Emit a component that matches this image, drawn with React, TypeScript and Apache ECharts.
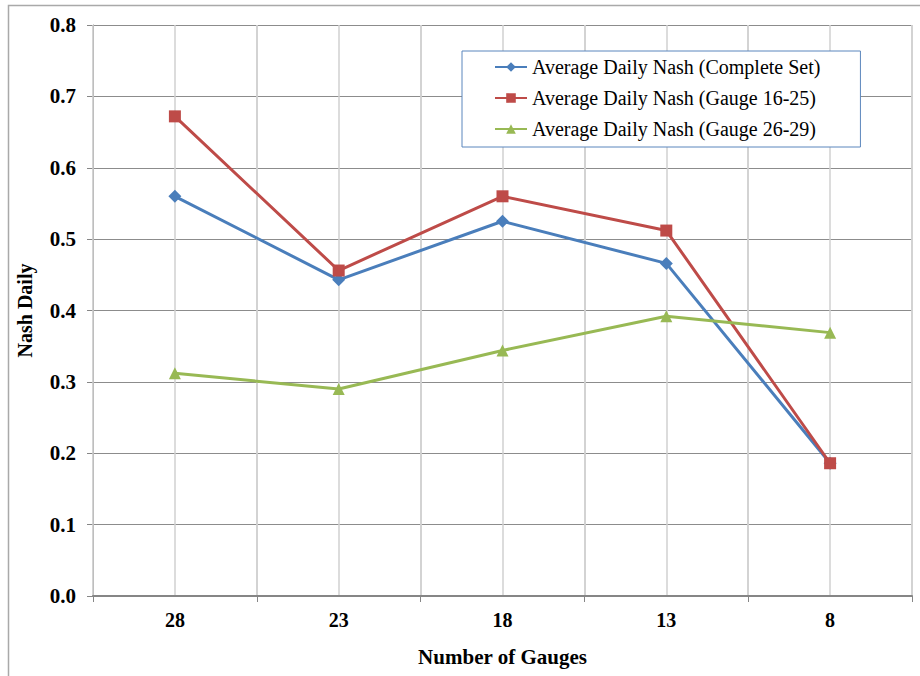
import React, { useEffect, useRef } from "react";
import * as echarts from "echarts";

const gauges = ["28", "23", "18", "13", "8"];
const completeSet = [0.56, 0.443, 0.525, 0.466, 0.186];
const gauge16to25 = [0.672, 0.456, 0.56, 0.512, 0.186];
const gauge26to29 = [0.312, 0.29, 0.344, 0.392, 0.369];

const SERIF = "'Liberation Serif', 'Times New Roman', serif";
const BLUE = "#4a7ebb";
const RED = "#be4b48";
const GREEN = "#98b954";

export default function App() {
  const ref = useRef<HTMLDivElement>(null);

  useEffect(() => {
    if (!ref.current) return;
    const chart = echarts.init(ref.current, undefined, { renderer: "svg" });

    const mkSeries = (name: string, data: number[], color: string, symbol: string, size: number) => ({
      name,
      type: "line",
      data,
      xAxisIndex: 0,
      yAxisIndex: 0,
      symbol,
      symbolSize: size,
      showAllSymbol: true,
      lineStyle: { color, width: 3 },
      itemStyle: { color },
      z: 5,
    });

    chart.setOption({
      animation: false,
      backgroundColor: "#ffffff",
      textStyle: { fontFamily: SERIF },
      grid: { left: 93, right: 8, top: 25, bottom: 80, containLabel: false },
      graphic: [
        {
          type: "rect",
          shape: { x: 8.5, y: 5.5, width: 940, height: 700 },
          style: { fill: "none", stroke: "#a9a9a9", lineWidth: 1.5 },
          silent: true,
          z: 0,
        },
      ],
      legend: {
        orient: "vertical",
        left: 462,
        top: 51,
        padding: [6, 40, 8, 32],
        itemGap: 11,
        itemWidth: 32,
        itemHeight: 12,
        borderColor: "#5b86bd",
        borderWidth: 1,
        backgroundColor: "#ffffff",
        textStyle: { fontFamily: SERIF, fontSize: 20, color: "#000" },
        data: [
          "Average Daily Nash (Complete Set)",
          "Average Daily Nash (Gauge 16-25)",
          "Average Daily Nash (Gauge 26-29)",
        ],
        z: 10,
      },
      xAxis: [
        {
          type: "category",
          data: gauges,
          boundaryGap: true,
          name: "Number of Gauges",
          nameLocation: "middle",
          nameGap: 50,
          nameTextStyle: { fontFamily: SERIF, fontSize: 21, fontWeight: "bold", color: "#000" },
          axisLine: { show: true, lineStyle: { color: "#868686", width: 2 } },
          axisTick: { show: true, length: 6, lineStyle: { color: "#868686" } },
          axisLabel: { fontFamily: SERIF, fontSize: 20, fontWeight: "bold", color: "#000", margin: 14 },
          splitLine: { show: true, lineStyle: { color: "#d0d0d0", width: 1.5 } },
          z: 3,
        },
        {
          // half-category grid lines through each category centre
          type: "value",
          min: 0,
          max: 10,
          interval: 1,
          show: true,
          position: "bottom",
          axisLine: { show: false },
          axisTick: { show: false },
          axisLabel: { show: false },
          splitLine: { show: true, lineStyle: { color: "#d0d0d0", width: 1.5 } },
        },
      ],
      yAxis: {
        type: "value",
        min: 0,
        max: 0.8,
        interval: 0.1,
        name: "Nash Daily",
        nameLocation: "middle",
        nameGap: 58,
        nameRotate: 90,
        nameTextStyle: { fontFamily: SERIF, fontSize: 20, fontWeight: "bold", color: "#000" },
        axisLine: { show: true, lineStyle: { color: "#868686", width: 1 } },
        axisTick: { show: true, length: 6, lineStyle: { color: "#868686" } },
        axisLabel: {
          fontFamily: SERIF,
          fontSize: 21,
          fontWeight: "bold",
          color: "#000",
          margin: 17,
          formatter: (v: number) => v.toFixed(1),
        },
        splitLine: { show: true, lineStyle: { color: "#8c8c8c", width: 1 } },
      },
      series: [
        mkSeries("Average Daily Nash (Complete Set)", completeSet, BLUE, "diamond", 13),
        mkSeries("Average Daily Nash (Gauge 16-25)", gauge16to25, RED, "rect", 12),
        mkSeries("Average Daily Nash (Gauge 26-29)", gauge26to29, GREEN, "triangle", 12),
      ],
    });

    return () => chart.dispose();
  }, []);

  return (
    <div
      ref={ref}
      style={{ position: "absolute", left: 0, top: 0, width: 920, height: 676 }}
    />
  );
}
